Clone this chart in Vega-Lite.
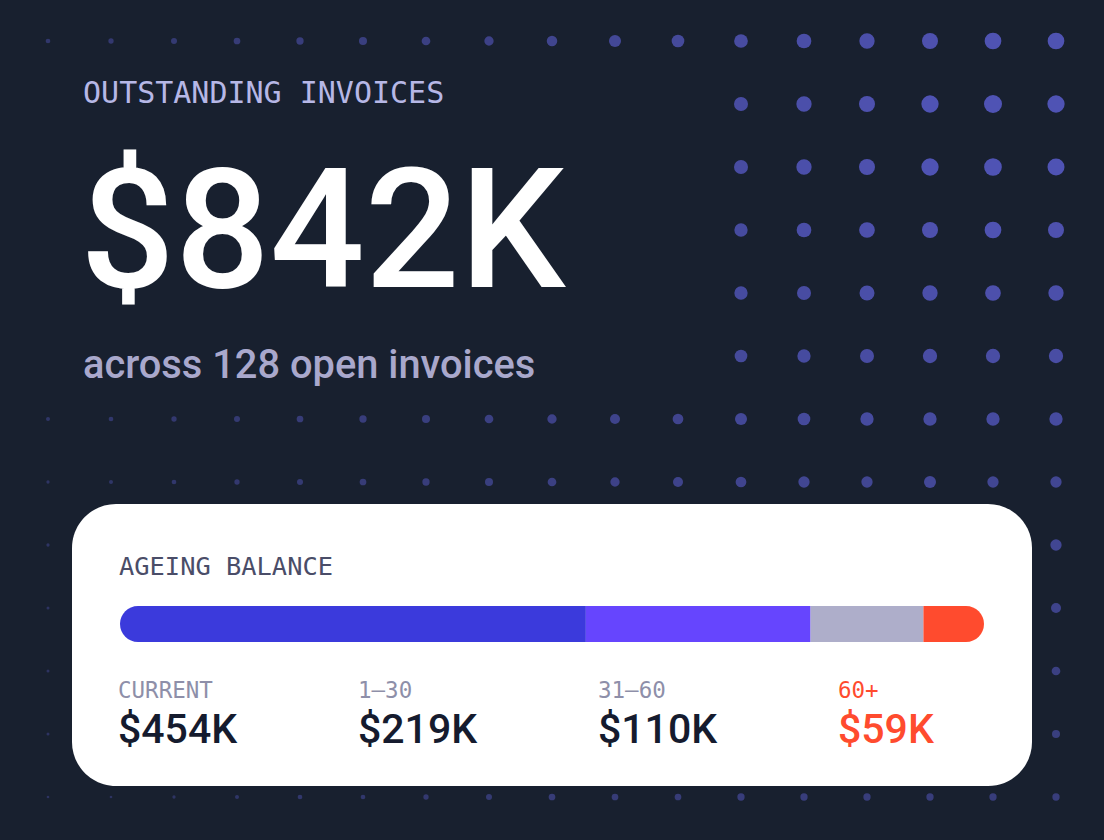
{
  "$schema": "https://vega.github.io/schema/vega-lite/v6.json",
  "width": 1104,
  "height": 840,
  "padding": 0,
  "autosize": {"type": "fit", "contains": "padding"},
  "background": "#18202f",
  "config": {
    "view": {"stroke": null},
    "axis": {"disable": true},
    "legend": {"disable": true}
  },
  "datasets": {
    "dots": [
      {"c": 0, "r": 0, "w": 4.7}, {"c": 1, "r": 0, "w": 5.3}, {"c": 2, "r": 0, "w": 6}, {"c": 3, "r": 0, "w": 6.7},
      {"c": 4, "r": 0, "w": 7.3}, {"c": 5, "r": 0, "w": 8}, {"c": 6, "r": 0, "w": 8.7}, {"c": 7, "r": 0, "w": 9.3},
      {"c": 8, "r": 0, "w": 10.5}, {"c": 9, "r": 0, "w": 12}, {"c": 10, "r": 0, "w": 12.7}, {"c": 11, "r": 0, "w": 13.7},
      {"c": 12, "r": 0, "w": 14.7}, {"c": 13, "r": 0, "w": 15.3}, {"c": 14, "r": 0, "w": 16}, {"c": 15, "r": 0, "w": 16.7},
      {"c": 16, "r": 0, "w": 16.7},
      {"c": 11, "r": 1, "w": 14}, {"c": 12, "r": 1, "w": 15.3}, {"c": 13, "r": 1, "w": 16}, {"c": 14, "r": 1, "w": 17.3}, {"c": 15, "r": 1, "w": 18}, {"c": 16, "r": 1, "w": 17.3},
      {"c": 11, "r": 2, "w": 14}, {"c": 12, "r": 2, "w": 15.3}, {"c": 13, "r": 2, "w": 16}, {"c": 14, "r": 2, "w": 17.3}, {"c": 15, "r": 2, "w": 17.7}, {"c": 16, "r": 2, "w": 17},
      {"c": 11, "r": 3, "w": 13.3}, {"c": 12, "r": 3, "w": 14.7}, {"c": 13, "r": 3, "w": 15.7}, {"c": 14, "r": 3, "w": 16}, {"c": 15, "r": 3, "w": 16.7}, {"c": 16, "r": 3, "w": 16},
      {"c": 11, "r": 4, "w": 13.3}, {"c": 12, "r": 4, "w": 14}, {"c": 13, "r": 4, "w": 15}, {"c": 14, "r": 4, "w": 15.3}, {"c": 15, "r": 4, "w": 15.7}, {"c": 16, "r": 4, "w": 15.3},
      {"c": 11, "r": 5, "w": 12.7}, {"c": 12, "r": 5, "w": 13.3}, {"c": 13, "r": 5, "w": 14}, {"c": 14, "r": 5, "w": 14.3}, {"c": 15, "r": 5, "w": 14.3}, {"c": 16, "r": 5, "w": 14.3},
      {"c": 0, "r": 6, "w": 4}, {"c": 1, "r": 6, "w": 4.7}, {"c": 2, "r": 6, "w": 5.3}, {"c": 3, "r": 6, "w": 6},
      {"c": 4, "r": 6, "w": 6.7}, {"c": 5, "r": 6, "w": 7.3}, {"c": 6, "r": 6, "w": 8}, {"c": 7, "r": 6, "w": 8.7},
      {"c": 8, "r": 6, "w": 9.3}, {"c": 9, "r": 6, "w": 10}, {"c": 10, "r": 6, "w": 10.7}, {"c": 11, "r": 6, "w": 12},
      {"c": 12, "r": 6, "w": 12.7}, {"c": 13, "r": 6, "w": 13.3}, {"c": 14, "r": 6, "w": 13.3}, {"c": 15, "r": 6, "w": 13.3},
      {"c": 16, "r": 6, "w": 13.3},
      {"c": 0, "r": 7, "w": 3.3}, {"c": 1, "r": 7, "w": 4}, {"c": 2, "r": 7, "w": 4.7}, {"c": 3, "r": 7, "w": 5.3},
      {"c": 4, "r": 7, "w": 6}, {"c": 5, "r": 7, "w": 6.7}, {"c": 6, "r": 7, "w": 7.3}, {"c": 7, "r": 7, "w": 8},
      {"c": 8, "r": 7, "w": 8.7}, {"c": 9, "r": 7, "w": 9.3}, {"c": 10, "r": 7, "w": 10}, {"c": 11, "r": 7, "w": 10.7},
      {"c": 12, "r": 7, "w": 11.3}, {"c": 13, "r": 7, "w": 11.3}, {"c": 14, "r": 7, "w": 12}, {"c": 15, "r": 7, "w": 11.3},
      {"c": 16, "r": 7, "w": 11.3},
      {"c": 0, "r": 8, "w": 3.3}, {"c": 16, "r": 8, "w": 11.3},
      {"c": 0, "r": 9, "w": 3}, {"c": 16, "r": 9, "w": 10},
      {"c": 0, "r": 10, "w": 3}, {"c": 16, "r": 10, "w": 8.7},
      {"c": 0, "r": 11, "w": 3}, {"c": 16, "r": 11, "w": 8},
      {"c": 0, "r": 12, "w": 2.7}, {"c": 1, "r": 12, "w": 2.7}, {"c": 2, "r": 12, "w": 3.3}, {"c": 3, "r": 12, "w": 4},
      {"c": 4, "r": 12, "w": 4.7}, {"c": 5, "r": 12, "w": 4.7}, {"c": 6, "r": 12, "w": 5.3}, {"c": 7, "r": 12, "w": 6},
      {"c": 8, "r": 12, "w": 6.7}, {"c": 9, "r": 12, "w": 6.7}, {"c": 10, "r": 12, "w": 6.7}, {"c": 11, "r": 12, "w": 7.3},
      {"c": 12, "r": 12, "w": 7.3}, {"c": 13, "r": 12, "w": 7.3}, {"c": 14, "r": 12, "w": 7.3}, {"c": 15, "r": 12, "w": 7.3},
      {"c": 16, "r": 12, "w": 7.3}
    ],
    "ageing": [
      {"i": 0, "bucket": "CURRENT", "value": 454, "amount": "$454K"},
      {"i": 1, "bucket": "1–30", "value": 219, "amount": "$219K"},
      {"i": 2, "bucket": "31–60", "value": 110, "amount": "$110K"},
      {"i": 3, "bucket": "60+", "value": 59, "amount": "$59K"}
    ],
    "headline": [
      {"kicker": "OUTSTANDING INVOICES", "total": "$842K", "sub": "across 128 open invoices", "card": "AGEING BALANCE"}
    ]
  },
  "layer": [
    {
      "layer": [
        {
          "data": {"name": "dots"},
          "mark": {"type": "point", "shape": "circle", "filled": true, "color": "#5558c0", "strokeWidth": 0},
          "encoding": {
            "x": {"field": "c", "type": "quantitative", "scale": {"domain": [-0.7619, 16.7619], "nice": false, "zero": false}},
            "y": {"field": "r", "type": "quantitative", "scale": {"domain": [-0.6508, 12.6825], "reverse": true, "nice": false, "zero": false}},
            "size": {"field": "w", "type": "quantitative", "scale": {"type": "pow", "exponent": 2, "domain": [0, 18], "range": [0, 324]}, "legend": null},
            "opacity": {"field": "w", "type": "quantitative", "scale": {"domain": [3, 17], "range": [0.35, 0.92], "clamp": true}, "legend": null}
          }
        },
        {
          "data": {"name": "headline"},
          "mark": {"type": "rect", "color": "#ffffff", "cornerRadius": 44},
          "encoding": {
            "x": {"datum": 0.381, "type": "quantitative", "scale": {"domain": [-0.7619, 16.7619], "nice": false, "zero": false}},
            "x2": {"datum": 15.619},
            "y": {"datum": 7.3492, "type": "quantitative", "scale": {"domain": [-0.6508, 12.6825], "reverse": true, "nice": false, "zero": false}},
            "y2": {"datum": 11.8254}
          }
        },
        {
          "data": {"name": "headline"},
          "mark": {"type": "text", "align": "left", "baseline": "alphabetic", "font": "DejaVu Sans Mono", "fontSize": 30, "color": "#b6b7e6"},
          "encoding": {
            "x": {"datum": 0.5556, "type": "quantitative", "scale": {"domain": [-0.7619, 16.7619], "nice": false, "zero": false}},
            "y": {"datum": 0.9841, "type": "quantitative", "scale": {"domain": [-0.6508, 12.6825], "reverse": true, "nice": false, "zero": false}},
            "text": {"field": "kicker"}
          }
        },
        {
          "data": {"name": "headline"},
          "mark": {"type": "text", "align": "left", "baseline": "alphabetic", "font": "Roboto", "fontSize": 167, "fontWeight": 500, "color": "#ffffff"},
          "encoding": {
            "x": {"datum": 0.5079, "type": "quantitative", "scale": {"domain": [-0.7619, 16.7619], "nice": false, "zero": false}},
            "y": {"datum": 3.9048, "type": "quantitative", "scale": {"domain": [-0.6508, 12.6825], "reverse": true, "nice": false, "zero": false}},
            "text": {"field": "total"}
          }
        },
        {
          "data": {"name": "headline"},
          "mark": {"type": "text", "align": "left", "baseline": "alphabetic", "font": "Roboto", "fontSize": 39.8, "fontWeight": 500, "color": "#a9a8cc"},
          "encoding": {
            "x": {"datum": 0.5556, "type": "quantitative", "scale": {"domain": [-0.7619, 16.7619], "nice": false, "zero": false}},
            "y": {"datum": 5.3492, "type": "quantitative", "scale": {"domain": [-0.6508, 12.6825], "reverse": true, "nice": false, "zero": false}},
            "text": {"field": "sub"}
          }
        },
        {
          "data": {"name": "headline"},
          "mark": {"type": "text", "align": "left", "baseline": "alphabetic", "font": "DejaVu Sans Mono", "fontSize": 25.4, "color": "#4a4d68"},
          "encoding": {
            "x": {"datum": 1.127, "type": "quantitative", "scale": {"domain": [-0.7619, 16.7619], "nice": false, "zero": false}},
            "y": {"datum": 8.4762, "type": "quantitative", "scale": {"domain": [-0.6508, 12.6825], "reverse": true, "nice": false, "zero": false}},
            "text": {"field": "card"}
          }
        }
      ]
    },
    {
      "data": {"name": "ageing"},
      "transform": [
        {"stack": "value", "groupby": [], "sort": [{"field": "i", "order": "ascending"}], "as": ["v0", "v1"]}
      ],
      "mark": {
        "type": "rect",
        "cornerRadiusTopLeft": {"expr": "datum.i == 0 ? 18 : 0"},
        "cornerRadiusBottomLeft": {"expr": "datum.i == 0 ? 18 : 0"},
        "cornerRadiusTopRight": {"expr": "datum.i == 3 ? 18 : 0"},
        "cornerRadiusBottomRight": {"expr": "datum.i == 3 ? 18 : 0"}
      },
      "encoding": {
        "x": {"field": "v0", "type": "quantitative", "scale": {"domain": [0, 842], "range": [120, 984], "nice": false, "zero": false}},
        "x2": {"field": "v1"},
        "y": {"datum": 8.9683, "type": "quantitative", "scale": {"domain": [-0.6508, 12.6825], "reverse": true, "nice": false, "zero": false}},
        "y2": {"datum": 9.5397},
        "color": {
          "field": "bucket",
          "type": "nominal",
          "scale": {"domain": ["CURRENT", "1–30", "31–60", "60+"], "range": ["#3b3adc", "#6645fe", "#aeaeca", "#ff4b2e"]},
          "legend": null
        }
      }
    },
    {
      "data": {"name": "ageing"},
      "encoding": {
        "x": {"field": "bucket", "type": "nominal", "scale": {"type": "point", "domain": ["CURRENT", "1–30", "31–60", "60+"], "range": [118, 838], "padding": 0}}
      },
      "layer": [
        {
          "mark": {"type": "text", "align": "left", "baseline": "alphabetic", "font": "DejaVu Sans Mono", "fontSize": 22.5},
          "encoding": {
            "y": {"datum": 10.4286, "type": "quantitative", "scale": {"domain": [-0.6508, 12.6825], "reverse": true, "nice": false, "zero": false}},
            "text": {"field": "bucket"},
            "color": {"condition": {"test": "datum.bucket === '60+'", "value": "#ff4b2e"}, "value": "#8e8fa9"}
          }
        },
        {
          "mark": {"type": "text", "align": "left", "baseline": "alphabetic", "font": "Roboto", "fontSize": 41, "fontWeight": 500},
          "encoding": {
            "y": {"datum": 11.1429, "type": "quantitative", "scale": {"domain": [-0.6508, 12.6825], "reverse": true, "nice": false, "zero": false}},
            "text": {"field": "amount"},
            "color": {"condition": {"test": "datum.bucket === '60+'", "value": "#ff4b2e"}, "value": "#151b2e"}
          }
        }
      ]
    }
  ],
  "resolve": {"scale": {"x": "independent"}}
}
